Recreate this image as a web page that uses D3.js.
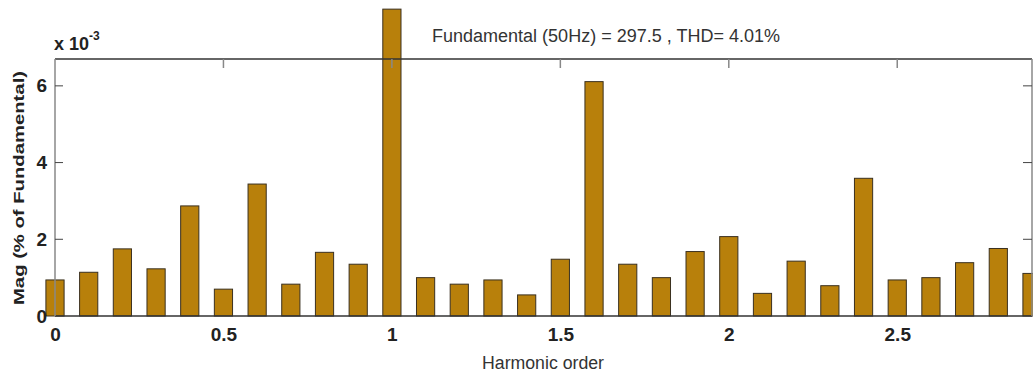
<!DOCTYPE html>
<html>
<head>
<meta charset="utf-8">
<script src="https://cdn.jsdelivr.net/npm/d3@7"></script>
<style>
  body { margin: 0; background: #fff; }
  .tick text { font-family: "Liberation Sans", Arial, sans-serif; font-weight: bold; font-size: 19px; fill: #222; }
  .narrow { font-family: "Liberation Sans Narrow", "Liberation Sans", Arial, sans-serif; fill: #333; }
</style>
</head>
<body>
<svg id="chart" width="1033" height="376"></svg>
<script>

// harmonic order positions and magnitudes (x 10^-3, % of fundamental)
var orders = [0, 0.1, 0.2, 0.3, 0.4, 0.5, 0.6, 0.7, 0.8, 0.9,
              1.0, 1.1, 1.2, 1.3, 1.4, 1.5, 1.6, 1.7, 1.8, 1.9,
              2.0, 2.1, 2.2, 2.3, 2.4, 2.5, 2.6, 2.7, 2.8, 2.9];
var mags = [0.94, 1.14, 1.75, 1.23, 2.87, 0.70, 3.44, 0.83, 1.66, 1.35,
            8.00, 1.00, 0.83, 0.94, 0.55, 1.48, 6.11, 1.35, 1.00, 1.68,
            2.07, 0.59, 1.43, 0.79, 3.59, 0.94, 1.00, 1.39, 1.76, 1.11];
var xTicks = [0, 0.5, 1, 1.5, 2, 2.5];
var yTicks = [0, 2, 4, 6];

var svg = d3.select("#chart");
var margin = {top: 59, right: 1, bottom: 60, left: 55};
var width = +svg.attr("width") - margin.left - margin.right,
    height = +svg.attr("height") - margin.top - margin.bottom;

var g = svg.append("g").attr("transform", "translate(" + margin.left + "," + margin.top + ")");

// scales
var x = d3.scaleLinear().domain([0, 2.9]).range([0, width]);
var y = d3.scaleLinear().domain([0, 6.7]).range([height, 0]);
var barW = x(0.054) - x(0);

// bars (not clipped, like the original)
g.selectAll("rect.bar")
  .data(orders)
  .enter().append("rect")
  .attr("class", "bar")
  .attr("x", (d) => x(d) - barW / 2)
  .attr("width", barW)
  .attr("y", (d, i) => y(mags[i]))
  .attr("height", (d, i) => y(0) - y(mags[i]))
  .attr("fill", "#b8800b")
  .attr("stroke", "#3a3020")
  .attr("stroke-width", 1);

// frame lines
g.append("line").attr("x1", 0).attr("x2", width).attr("y1", 0).attr("y2", 0)
  .attr("stroke", "#333").attr("stroke-width", 1.5);
g.append("line").attr("x1", 0).attr("x2", width).attr("y1", height).attr("y2", height)
  .attr("stroke", "#333").attr("stroke-width", 1.5);
g.append("line").attr("x1", 0).attr("x2", 0).attr("y1", 0).attr("y2", height)
  .attr("stroke", "#888").attr("stroke-width", 1.5);
g.append("line").attr("x1", width).attr("x2", width).attr("y1", 0).attr("y2", height)
  .attr("stroke", "#888").attr("stroke-width", 1.5);

// axes
var xaxis = g.append("g")
  .attr("class", "axis axis--x")
  .attr("transform", "translate(0," + height + ")")
  .call(d3.axisBottom(x).tickValues(xTicks).tickFormat(d3.format("")).tickSize(0).tickPadding(9));
xaxis.select(".domain").remove();
xaxis.selectAll(".tick text").attr("dy", "0.85em");

var yaxis = g.append("g")
  .attr("class", "axis axis--y")
  .call(d3.axisLeft(y).tickValues(yTicks).tickFormat(d3.format("d")).tickSize(0).tickPadding(8));
yaxis.select(".domain").remove();

// inward tick marks
g.selectAll("line.ytick").data(yTicks.slice(1)).enter().append("line")
  .attr("class", "ytick")
  .attr("x1", 0).attr("x2", 8).attr("y1", (d) => y(d)).attr("y2", (d) => y(d))
  .attr("stroke", "#444");
g.selectAll("line.ytickr").data(yTicks.slice(1)).enter().append("line")
  .attr("class", "ytickr")
  .attr("x1", width - 9).attr("x2", width).attr("y1", (d) => y(d)).attr("y2", (d) => y(d))
  .attr("stroke", "#444");
g.selectAll("line.xtick").data(xTicks.slice(1)).enter().append("line")
  .attr("class", "xtick")
  .attr("x1", (d) => x(d)).attr("x2", (d) => x(d)).attr("y1", 0).attr("y2", 9)
  .attr("stroke", "#888").attr("stroke-width", 1.5);

// exponent label
var expo = svg.append("text")
  .attr("x", 54).attr("y", 50)
  .attr("font-family", "Liberation Sans, Arial, sans-serif")
  .attr("font-weight", "bold").attr("font-size", 18).attr("fill", "#222");
expo.append("tspan").text("x 10");
expo.append("tspan").text("-3").attr("font-size", 12).attr("dy", -10);

// title
svg.append("text")
  .attr("class", "narrow")
  .attr("x", 432).attr("y", 42)
  .attr("font-size", 18)
  .attr("textLength", 348).attr("lengthAdjust", "spacingAndGlyphs")
  .text("Fundamental (50Hz) = 297.5 , THD= 4.01%");

// x label
svg.append("text")
  .attr("class", "narrow")
  .attr("x", 482).attr("y", 369)
  .attr("font-size", 18)
  .attr("textLength", 122).attr("lengthAdjust", "spacingAndGlyphs")
  .text("Harmonic order");

// y label
svg.append("text")
  .attr("transform", "translate(19,188)rotate(-90)")
  .attr("text-anchor", "middle")
  .attr("dy", "0.35em")
  .attr("font-family", "Liberation Sans, Arial, sans-serif")
  .attr("font-weight", "bold").attr("font-size", 15).attr("fill", "#222")
  .attr("textLength", 234).attr("lengthAdjust", "spacingAndGlyphs")
  .text("Mag (% of Fundamental)");

</script>
</body>
</html>
